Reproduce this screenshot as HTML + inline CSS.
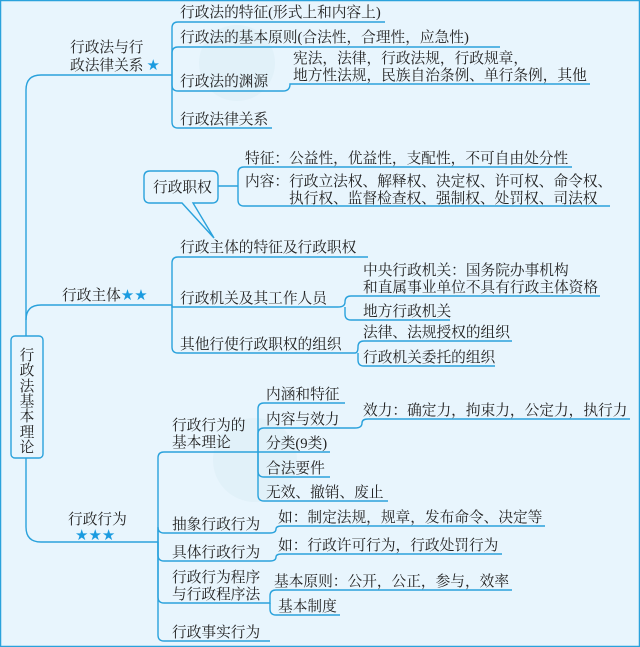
<!DOCTYPE html>
<html><head><meta charset="utf-8"><style>
html,body{margin:0;padding:0;background:#e8f5fd}
svg{display:block}
text{font-family:"Liberation Serif","Noto Serif CJK SC",serif;font-size:14.7px;fill:#222}
.l{fill:none;stroke:#2aa2dc;stroke-width:1.4}
.s{fill:#1a9be0;font-size:15px;font-family:"DejaVu Sans",sans-serif}
</style></head><body>
<svg width="640" height="647" viewBox="0 0 640 647">
<rect x="0.5" y="0.5" width="639" height="646" fill="#e8f5fd" stroke="#2aa2dc" stroke-width="1.5"/>
<circle cx="237" cy="63" r="38" fill="#d9eef6" opacity="0.5"/>
<circle cx="255" cy="460" r="42" fill="#d9eef6" opacity="0.5"/>
<g class="l">
<path d="M26,336 V90 Q26,75 41,75 H172"/>
<path d="M26,320 Q26,305 41,305 H172"/>
<path d="M26,458 V527 Q26,542 41,542 H158"/>
<rect x="11" y="336" width="32" height="122" rx="4" fill="#e8f5fd"/>
<path d="M172,75 V28 Q172,22 178,22 H385"/>
<path d="M172,75 V53 Q172,47 178,47 H500"/>
<path d="M172,75 V85 Q172,91 178,91 H283 Q290,91 290,84 H590"/>
<path d="M172,75 V122 Q172,128 178,128 H272"/>
<path d="M150,171 H212 Q218,171 218,177 V197 Q218,203 212,203 H193 L214,238 L182,203 H150 Q144,203 144,197 V177 Q144,171 150,171 Z" fill="#e8f5fd"/>
<path d="M218,186 H238"/>
<path d="M238,186 V173 Q238,167 244,167 H572"/>
<path d="M238,186 V200 Q238,206 244,206 H610"/>
<path d="M172,305 V263 Q172,257 178,257 H368"/>
<path d="M172,305 V307 H338 Q345,307 345,302 Q345,296 351,296 H600"/>
<path d="M345,307 V314 Q345,320 351,320 H450"/>
<path d="M172,305 V347 Q172,353 178,353 H355 Q358,353 358,347 Q358,341 364,341 H512"/>
<path d="M358,353 V360 Q358,366 364,366 H495"/>
<path d="M158,542 V458 Q158,452 164,452 H258"/>
<path d="M258,452 V409 Q258,403 264,403 H345"/>
<path d="M258,452 V434 Q258,428 264,428 H355 Q362,428 362,423 Q362,419 368,419 H630"/>
<path d="M258,452 H330"/>
<path d="M258,452 V471 Q258,477 264,477 H330"/>
<path d="M258,452 V495 Q258,501 264,501 H388"/>
<path d="M158,542 V527 Q158,533 164,533 H270 Q276,533 276,529 Q276,526 282,526 H545"/>
<path d="M158,542 V555 Q158,561 164,561 H270 Q276,561 276,557 Q276,554 282,554 H502"/>
<path d="M158,542 V597 Q158,603 164,603 H270 V596 Q270,590 276,590 H512"/>
<path d="M270,603 V609 Q270,615 276,615 H340"/>
<path d="M158,542 V635 Q158,641 164,641 H270"/>
</g>
<g text-anchor="middle">
<text x="27" y="360">行</text><text x="27" y="375">政</text><text x="27" y="391">法</text><text x="27" y="406">基</text><text x="27" y="421">本</text><text x="27" y="437">理</text><text x="27" y="452">论</text>
</g>
<text x="70" y="52">行政法与行</text>
<text x="70" y="70">政法律关系<tspan class="s" dx="3">★</tspan></text>
<text x="180" y="17">行政法的特征(形式上和内容上)</text>
<text x="180" y="42">行政法的基本原则(合法性，合理性，应急性)</text>
<text x="180" y="86">行政法的渊源</text>
<text x="293" y="63">宪法，法律，行政法规，行政规章，</text>
<text x="293" y="80">地方性法规，民族自治条例、单行条例，其他</text>
<text x="180" y="124">行政法律关系</text>
<text x="153" y="192">行政职权</text>
<text x="245" y="163">特征：公益性，优益性，支配性，不可自由处分性</text>
<text x="245" y="186">内容：行政立法权、解释权、决定权、许可权、命令权、</text>
<text x="289" y="203">执行权、监督检查权、强制权、处罚权、司法权</text>
<text x="62" y="300">行政主体<tspan class="s">★★</tspan></text>
<text x="180" y="252">行政主体的特征及行政职权</text>
<text x="180" y="303">行政机关及其工作人员</text>
<text x="180" y="349">其他行使行政职权的组织</text>
<text x="363" y="275">中央行政机关：国务院办事机构</text>
<text x="363" y="292">和直属事业单位不具有行政主体资格</text>
<text x="363" y="316">地方行政机关</text>
<text x="363" y="337">法律、法规授权的组织</text>
<text x="363" y="362">行政机关委托的组织</text>
<text x="68" y="524">行政行为</text>
<text x="75" y="540" class="s">★★★</text>
<text x="172" y="430">行政行为的</text>
<text x="172" y="447">基本理论</text>
<text x="266" y="399">内涵和特征</text>
<text x="266" y="424">内容与效力</text>
<text x="363" y="415">效力：确定力，拘束力，公定力，执行力</text>
<text x="266" y="448">分类(9类)</text>
<text x="266" y="473">合法要件</text>
<text x="266" y="497">无效、撤销、废止</text>
<text x="172" y="529">抽象行政行为</text>
<text x="278" y="522">如：制定法规，规章，发布命令、决定等</text>
<text x="172" y="557">具体行政行为</text>
<text x="278" y="550">如：行政许可行为，行政处罚行为</text>
<text x="172" y="582">行政行为程序</text>
<text x="172" y="599">与行政程序法</text>
<text x="274" y="586">基本原则：公开，公正，参与，效率</text>
<text x="278" y="611">基本制度</text>
<text x="172" y="637">行政事实行为</text>
</svg>
</body></html>
